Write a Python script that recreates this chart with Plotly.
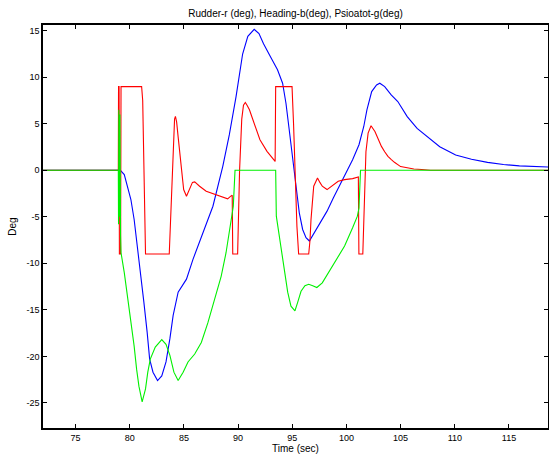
import plotly.graph_objects as go

# ---------------- data ----------------
t_rudder = [72.0, 78.95, 78.97, 79.02, 79.05, 79.16, 79.20, 81.10, 81.20, 81.31, 81.41, 81.46,
            83.65, 83.86, 84.01, 84.14, 84.22, 84.33, 84.47, 84.78, 84.98, 85.24, 85.42, 85.60,
            85.79, 86.00, 86.21, 86.45, 87.06, 87.68, 88.28, 89.04, 89.30, 89.46, 89.51, 89.96,
            90.14, 90.34, 90.50, 90.67, 90.83, 91.05, 91.37, 92.02, 92.67, 93.15, 93.42, 93.47,
            94.98, 95.12, 95.27, 95.43, 95.59, 96.52, 96.64, 96.73, 96.98, 97.33, 97.55, 97.77,
            98.21, 98.65, 99.24, 99.83, 100.57, 101.10, 101.15, 101.51, 101.65, 101.80, 102.00,
            102.27, 102.63, 102.92, 103.23, 103.53, 103.83, 104.12, 104.43, 105.00, 105.61,
            106.22, 106.94, 107.65, 107.75, 118.70]
rudder = [0, 0, 9, 9, -9, -9, 9, 9, 7.5, 0, -7, -9,
          -9, -3, 3, 5.5, 5.8, 5.2, 3.6, 0.1, -2.07, -2.79, -2.3, -1.71,
          -1.3, -1.25, -1.5, -1.71, -2.25, -2.5, -2.79, -3.07, -2.8, -2.68, -9, -9,
          0, 5.5, 7.0, 7.3, 7.0, 6.5, 5.43, 3.29, 2.04, 1.32, 0.96, 9,
          9, 5, -1, -6, -9, -9, -7.5, -5.3, -1.71, -0.82, -1.3, -1.71,
          -2.07, -1.71, -1.18, -1.0, -0.89, -0.71, -9, -9, -3, 2.0, 4.0,
          4.79, 4.18, 3.3, 2.57, 2.0, 1.5, 1.18, 0.86, 0.4, 0.25,
          0.14, 0.08, 0.03, 0, 0]

t_heading = [72.0, 79.14, 79.50, 79.80, 80.11, 80.41, 80.71, 81.01, 81.31, 81.61, 81.84, 82.15,
             82.57, 82.96, 83.35, 83.71, 84.01, 84.47, 85.24, 85.84, 86.75, 87.68, 88.59, 89.19,
             89.81, 90.42, 90.90, 91.49, 91.93, 92.35, 92.99, 93.64, 94.11, 94.42, 94.72, 95.04,
             95.34, 95.65, 95.96, 96.27, 96.58, 97.04, 97.63, 98.21, 98.80, 99.39, 99.98, 100.57,
             101.16, 101.60, 101.89, 102.33, 102.78, 103.08, 103.53, 104.13, 104.74, 105.61,
             106.52, 107.43, 108.61, 110.08, 111.54, 113.02, 114.49, 115.96, 117.75, 118.70]
heading = [0, 0, -0.46, -1.71, -3.14, -5.29, -8.14, -11.36, -14.2, -17.4, -20.3, -21.7,
           -22.6, -22.1, -20.6, -18.1, -15.6, -13.1, -11.7, -9.57, -6.71, -3.86, 0.43, 3.8,
           7.9, 12.5, 14.4, 15.15, 14.7, 13.6, 12.2, 10.8, 9.36, 7.21, 4.36, 1.14,
           -1.71, -4.57, -6.36, -7.25, -7.6, -6.71, -5.64, -4.39, -2.96, -1.54, -0.29, 1.14,
           2.75, 4.71, 6.5, 8.46, 9.18, 9.36, 9.0, 8.1, 7.39, 5.77,
           4.5, 3.62, 2.54, 1.65, 1.18, 0.85, 0.62, 0.48, 0.38, 0.35]

t_psi = [72.0, 78.95, 78.97, 79.00, 79.05, 79.10, 79.16, 79.20, 79.50, 79.80, 80.11, 80.41,
         80.64, 80.85, 81.15, 81.46, 81.67, 81.90, 82.36, 82.96, 83.35, 83.71, 84.08, 84.47,
         84.93, 85.38, 86.00, 86.61, 87.21, 87.82, 88.44, 88.89, 89.19, 89.44, 89.56, 89.72,
         93.47, 93.53, 93.96, 94.26, 94.58, 94.88, 95.25, 95.50, 95.81, 96.17, 96.52, 96.89,
         97.27, 97.77, 98.36, 99.10, 99.83, 100.57, 101.01, 101.16, 101.30, 118.70]
psi = [0, 0, -5.8, 6.5, -5.0, 6.0, -7, -8.86, -11.0, -13.5, -16.0, -18.9,
       -21.4, -23.2, -24.9, -23.5, -21.7, -20.3, -19.0, -18.2, -18.7, -19.9, -21.7, -22.6,
       -21.7, -20.6, -19.75, -18.5, -16.4, -13.9, -11.4, -8.86, -6.71, -4.93, -3.86, 0,
       0, -4.93, -8.14, -10.6, -13.1, -14.6, -15.1, -14.2, -13.0, -12.4, -12.25, -12.4,
       -12.6, -12.1, -11.0, -9.57, -8.14, -6.18, -4.93, -4.04, 0, 0]

x_ticks = [75, 80, 85, 90, 95, 100, 105, 110, 115]
y_ticks = [-25, -20, -15, -10, -5, 0, 5, 10, 15]

title_text = "Rudder-r (deg), Heading-b(deg), Psioatot-g(deg)"
x_label = "Time (sec)"
y_label = "Deg"

# ---------------- figure ----------------
FONT = "Liberation Sans, Arial, sans-serif"
fig = go.Figure()
fig.add_trace(go.Scatter(x=t_heading, y=heading, mode="lines",
                         line=dict(color="#0000ff", width=1.1), name="Heading"))
fig.add_trace(go.Scatter(x=t_rudder, y=rudder, mode="lines",
                         line=dict(color="#ff0000", width=1.1), name="Rudder"))
fig.add_trace(go.Scatter(x=t_psi, y=psi, mode="lines",
                         line=dict(color="#00f000", width=1.1), name="Psioatot"))

axis_common = dict(showgrid=False, zeroline=False, showline=True, linecolor="black",
                   linewidth=1.5, mirror="ticks", ticks="inside", ticklen=4,
                   tickcolor="black", tickwidth=1, automargin=False,
                   tickfont=dict(family=FONT, size=9, color="black"))

fig.update_xaxes(range=[72.0, 118.6], tickvals=x_ticks,
                 ticktext=[str(v) for v in x_ticks],
                 title=dict(text=x_label, font=dict(family=FONT, size=10, color="black"),
                            standoff=0),
                 **axis_common)
fig.update_yaxes(range=[-27.7, 15.62], tickvals=y_ticks,
                 ticktext=[str(v) for v in y_ticks],
                 title=dict(text=y_label, font=dict(family=FONT, size=10, color="black"),
                            standoff=8),
                 **axis_common)

fig.update_layout(
    width=549, height=459,
    margin=dict(l=43, r=1, t=25, b=31, autoexpand=False),
    paper_bgcolor="white", plot_bgcolor="white",
    showlegend=False,
    title=dict(text=title_text, x=0.5, xanchor="center", y=1 - 13 / 459,
               yref="container", yanchor="middle", xref="paper",
               font=dict(family=FONT, size=10, color="black")),
)

fig.write_html("out.html", config={"displayModeBar": False},
               post_script="document.body.style.margin='0';document.body.style.padding='0';")
